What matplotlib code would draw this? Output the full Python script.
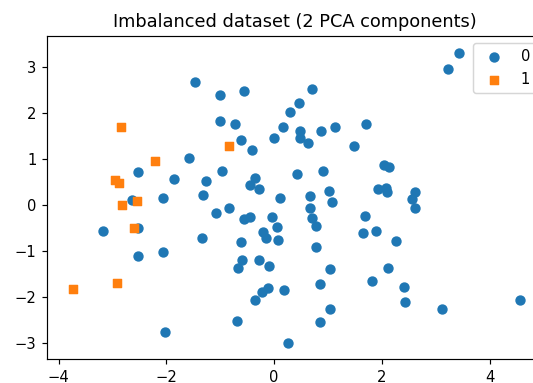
import matplotlib
matplotlib.use('Agg')
import matplotlib.pyplot as plt
import numpy as np

# PCA projection of the two classes (component 1, component 2)
x0 = [-1.47, -1.00, -0.56, 0.71, 0.46, 0.30, -1.00, -0.72, 0.16, 0.49,
      0.88, 1.13, 1.70, -0.62, 0.00, 0.49, 0.63, 1.48, -0.40, -1.58,
      -2.52, -1.86, -1.27, -0.97, -0.36, -0.45, -0.28, 0.43, 0.91, 2.04,
      2.13, 1.02, 1.93, 2.07, 2.10, 2.62, 2.57, 2.62, -2.63, -2.07,
      -1.31, 0.11, 0.66, 1.07, -1.07, -0.83, -0.55, -0.45, -0.03, 0.66,
      0.71, 0.77, 0.05, -0.20, -0.14, 0.07, 1.68, 1.65, 1.90, 2.26,
      -3.17, -2.52, -1.33, -0.62, 0.77, -2.52, -2.07, -0.59, -0.67, -0.28,
      -0.10, 1.04, 2.12, 0.85, 1.82, 2.42, 2.44, -0.11, -0.22, -0.36,
      0.19, 1.04, 3.11, 4.57, -0.69, 0.85, -2.03, 0.25, 3.22, 3.44]
y0 = [2.67, 2.38, 2.48, 2.51, 2.22, 2.02, 1.83, 1.76, 1.70, 1.61,
      1.61, 1.70, 1.76, 1.41, 1.45, 1.45, 1.34, 1.28, 1.19, 1.03,
      0.72, 0.56, 0.53, 0.73, 0.58, 0.44, 0.35, 0.67, 0.73, 0.87,
      0.83, 0.31, 0.34, 0.38, 0.28, 0.29, 0.12, -0.06, 0.11, 0.16,
      0.22, 0.16, 0.20, 0.06, -0.17, -0.07, -0.30, -0.27, -0.25, -0.07,
      -0.29, -0.46, -0.48, -0.58, -0.71, -0.75, -0.23, -0.61, -0.56, -0.78,
      -0.56, -0.49, -0.71, -0.81, -0.91, -1.10, -1.01, -1.19, -1.36, -1.19,
      -1.32, -1.39, -1.36, -1.71, -1.65, -1.79, -2.10, -1.81, -1.89, -2.07,
      -1.84, -2.26, -2.26, -2.07, -2.52, -2.55, -2.75, -3.00, 2.95, 3.31]

x1 = [-2.84, -2.21, -0.83, -2.96, -2.88, -2.82, -2.54, -2.60, -2.91, -3.73]
y1 = [1.70, 0.95, 1.28, 0.54, 0.47, 0.00, 0.09, -0.49, -1.69, -1.82]

labels = ['0', '1']
colors = ['#1F77B4', '#FF7F0E']
markers = ['o', 's']

dpi = 106.5
fig = plt.figure(figsize=(533 / dpi, 383 / dpi), dpi=dpi)
ax = fig.add_axes([0.0876, 0.0619, 0.9319, 0.8441])

for xs, ys, l, c, m in zip([x0, x1], [y0, y1], labels, colors, markers):
    ax.scatter(xs, ys, c=c, label=l, marker=m)

ax.set_xlim(-4.22, 5.0)
ax.set_ylim(-3.35, 3.67)
ax.set_xticks([-4, -2, 0, 2, 4])
ax.set_yticks([-3, -2, -1, 0, 1, 2, 3])
ax.set_title('Imbalanced dataset (2 PCA components)')
ax.legend(loc='upper right')

fig.savefig('out.png', dpi=dpi)
